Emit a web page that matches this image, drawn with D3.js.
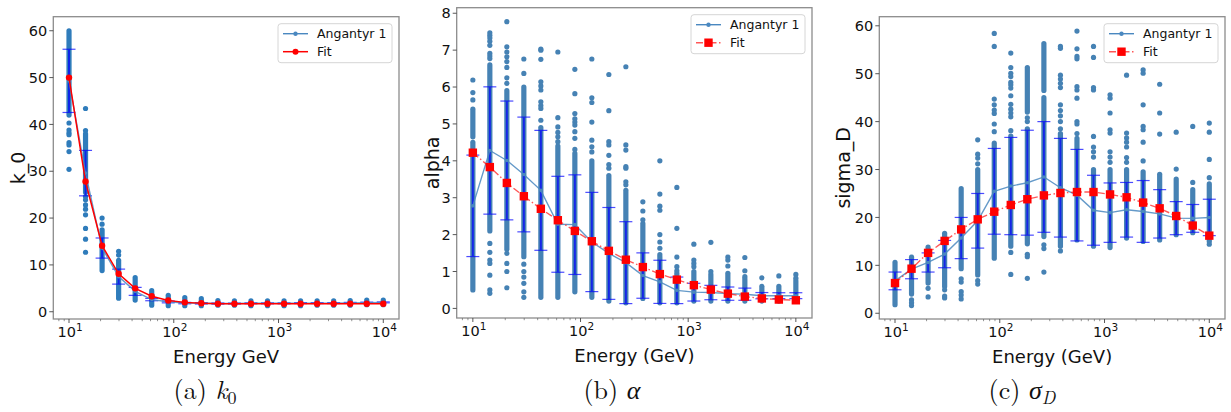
<!DOCTYPE html>
<html>
<head>
<meta charset="utf-8">
<script src="https://cdn.jsdelivr.net/npm/d3@7"></script>
<style>
  body { margin: 0; background: #fff; }
  text { font-family: "DejaVu Sans", sans-serif; fill: #111; }
  .cap { font-family: "Latin Modern Roman", "Liberation Serif", serif; }
</style>
</head>
<body>
<svg width="1231" height="412"></svg>
<script>
// energies: 20 log-spaced points from 10 to 10^4 GeV
var energies = [10, 14.38, 20.69, 29.76, 42.81, 61.58, 88.59, 127.4, 183.3, 263.7,
  379.3, 545.6, 784.8, 1129, 1624, 2336, 3360, 4833, 6952, 10000];

var xTicks = [10, 100, 1000, 10000];
var xTickExp = ['1', '2', '3', '4'];

// ---- (a) k_0 ----
var k0Mean = [49.3, 29.6, 13.6, 7.5, 4.35, 2.6, 2.1, 1.85, 1.8, 1.75, 1.75, 1.8, 1.8, 1.8, 1.85, 1.85, 1.85, 1.9, 1.95, 2.0];
var k0Std = [6.75, 4.85, 2.15, 1.6, 0.85, 0.25, 0.2, 0.15, 0.15, 0.12, 0.1, 0.1, 0.1, 0.1, 0.1, 0.1, 0.1, 0.1, 0.1, 0.1];
var k0Fit = [50.0, 27.8, 14.1, 8.1, 5.0, 3.3, 2.4, 2.0, 1.8, 1.7, 1.7, 1.7, 1.7, 1.7, 1.7, 1.7, 1.7, 1.7, 1.7, 1.7];
// dense stretches of overlapping points [low, high]
var k0Runs = [[[42, 60]], [[25.5, 38]], [[8.8, 17.5]], [[2.9, 11.0]], [[2.5, 7.3]], [[1.4, 4.5]],
  [[1.3, 3.5]], [[1.3, 3.0]], [[1.3, 2.8]], [[1.4, 2.4]], [[1.4, 2.3]], [[1.3, 2.3]], [[1.3, 2.3]],
  [[1.3, 2.3]], [[1.3, 2.3]], [[1.4, 2.3]], [[1.4, 2.3]], [[1.4, 2.4]], [[1.5, 2.5]], [[1.5, 2.5]]];
// isolated points
var k0Dots = [[40.3, 38.8, 38.2, 37.8, 36.1, 35.6, 34.2, 30.4],
  [43.4, 38.7, 24.6, 23.9, 22.8, 21.9, 20.7, 17.8, 15.5, 12.7],
  [20.0, 18.7], [12.9, 12.1], [], [], [], [], [], [], [], [], [], [], [], [], [], [], [], []];
var k0Ticks = [0, 10, 20, 30, 40, 50, 60];

// ---- (b) alpha ----
var alphaMean = [2.78, 4.28, 4.01, 3.63, 3.2, 2.28, 2.27, 1.8, 1.49, 1.24, 0.89, 0.72, 0.49, 0.44, 0.43, 0.40, 0.385, 0.345, 0.345, 0.345];
var alphaStd = [1.375, 1.725, 1.61, 1.555, 1.625, 1.3, 1.35, 1.345, 1.245, 1.11, 0.615, 0.585, 0.36, 0.24, 0.195, 0.18, 0.165, 0.085, 0.08, 0.08];
var alphaFit = [4.22, 3.83, 3.4, 3.04, 2.7, 2.39, 2.1, 1.82, 1.56, 1.32, 1.12, 0.93, 0.78, 0.63, 0.51, 0.40, 0.32, 0.27, 0.24, 0.22];
var alphaRuns = [[[0.5, 4.5], [4.65, 5.4]], [[2.1, 6.6]], [[1.6, 5.9]], [[1.4, 6.0]], [[0.3, 4.9]], [[0.3, 4.4]],
  [[0.45, 4.2]], [[0.3, 4.0]], [[0.2, 3.6]], [[0.15, 3.2]], [[0.27, 2.3]], [[0.15, 1.4]], [[0.15, 0.95]],
  [[0.2, 1.0]], [[0.2, 0.92]], [[0.2, 0.95]], [[0.2, 0.8]], [[0.2, 0.6]], [[0.2, 0.6]], [[0.2, 0.75]]];
var alphaDots = [[6.19, 5.85, 5.65],
  [7.47, 7.4, 7.33, 7.24, 7.13, 6.91, 6.84, 6.77, 1.76, 1.52, 1.31, 1.22, 0.9, 0.5, 0.41],
  [7.77, 7.09, 6.95, 6.82, 6.69, 6.53, 6.25, 6.1, 1.49, 1.22, 1.0, 0.56],
  [6.76, 6.37, 1.2, 1.0, 0.85, 0.68, 0.45, 0.3],
  [7.03, 7.0, 6.75, 6.14, 6.03, 5.92, 5.6, 5.5, 5.42, 5.1],
  [6.95, 5.17, 4.92, 4.77, 4.65, 4.52],
  [6.48, 5.82, 5.28, 5.14, 5.05, 4.97, 4.79, 4.61, 4.31],
  [6.76, 5.71, 5.58, 5.05, 4.56, 4.38, 4.24],
  [6.34, 5.36, 4.52, 4.43, 4.15, 3.9, 3.8],
  [6.55, 4.43, 4.29, 3.84, 3.8, 3.43, 3.35],
  [2.89, 2.64, 2.4],
  [4.0, 3.1, 2.77, 2.66, 2.0, 1.8, 1.63, 1.46],
  [3.28, 2.17, 1.39, 1.13, 1.02],
  [1.74, 1.31, 1.22, 1.13],
  [1.79, 1.0],
  [1.39, 1.31, 1.15],
  [1.38, 1.02, 0.86],
  [0.83], [0.88], [0.92, 0.82]];
var alphaTicks = [0, 1, 2, 3, 4, 5, 6, 7, 8];

// ---- (c) sigma_D ----
var sigmaMean = [6.75, 9.2, 10.6, 12.35, 15.7, 19.3, 25.45, 26.55, 27.25, 28.45, 26.2, 24.65, 21.5, 21.0, 21.6, 21.25, 20.75, 19.85, 19.8, 20.0];
var sigmaStd = [1.85, 2.0, 2.0, 2.85, 4.3, 5.7, 8.95, 10.15, 10.95, 11.55, 10.3, 9.55, 7.3, 6.2, 5.7, 6.45, 5.05, 3.45, 2.9, 3.8];
var sigmaFit = [6.3, 9.3, 12.6, 15.1, 17.5, 19.6, 21.2, 22.6, 23.8, 24.6, 25.1, 25.3, 25.3, 24.8, 24.2, 23.1, 21.9, 20.3, 18.3, 16.2];
var sigmaRuns = [[[1.8, 10.6]], [[4.0, 11.7]], [[6.3, 13.8]], [[5.6, 16.7]], [[9.3, 26.0]], [[8.0, 30.0]],
  [[11.5, 35.5]], [[14.0, 37.0]], [[14.5, 38.5], [42, 51.3]], [[16, 45], [46.5, 56.3]], [[14, 37.5]],
  [[15.3, 36.5]], [[14.0, 30.0]], [[13.7, 30.0]], [[15.7, 30.0]], [[15.0, 29.5]], [[15.3, 29.0]],
  [[16.4, 28.0]], [[16.8, 25.8]], [[15.0, 27.0]]];
var sigmaDots = [[],
  [2.8, 2.2, 1.6],
  [5.2, 3.4],
  [4.9, 3.6, 3.2],
  [7.2, 6.5, 4.5, 3.8, 3.0],
  [36.2, 33.2, 32.4, 31.2, 6.8, 6.1],
  [58.4, 55.7, 44.7, 43.5, 42.4, 41.7, 39.5, 37.9],
  [54.3, 51.3, 50.1, 49.4, 48.2, 47.7, 47.0, 45.4, 43.6, 42.6, 41.8, 41.0, 38.1, 12.7, 8.1],
  [40.8, 40.0, 12.3, 11.8, 7.3],
  [14.3, 13.5, 8.6],
  [55.7, 55.3, 49.7, 48.9, 48.0, 47.1, 43.5, 42.3, 41.2, 40.0, 38.5, 13.0],
  [58.9, 55.2, 53.6, 53.1, 47.3, 46.6, 44.9, 40.0, 39.5, 37.5],
  [55.7, 53.4, 47.1, 46.6, 36.9, 34.7, 33.7, 32.6],
  [45.6, 44.9, 41.8, 38.3, 37.6, 33.7, 32.6, 31.5],
  [49.7, 37.6, 36.6, 35.7, 34.7, 32.5, 31.5],
  [50.8, 50.1, 43.5, 39.0, 38.3, 35.7, 31.8],
  [47.8, 41.8, 37.4],
  [37.8, 30.1],
  [39.0, 27.3],
  [39.7, 37.8, 32.1, 28.3, 14.4]];
var sigmaTicks = [0, 10, 20, 30, 40, 50, 60];

var svg = d3.select('svg');

var panels = [
  { left: 53.3, right: 399, top: 16.7, bottom: 319, yDomain: [-1.55, 63.0],
    mean: k0Mean, std: k0Std, fit: k0Fit, runs: k0Runs, dots: k0Dots, yTicks: k0Ticks,
    ylabel: 'k_0', ylabelX: 18, xlabel: 'Energy GeV', dotColor: '#2f7cbb', fitStyle: 'solid',
    capX: 205, capLetter: '(a) ', capSym: 'k', capSub: '0' },
  { left: 456.7, right: 812, top: 7.7, bottom: 318, yDomain: [-0.26, 8.15],
    mean: alphaMean, std: alphaStd, fit: alphaFit, runs: alphaRuns, dots: alphaDots, yTicks: alphaTicks,
    ylabel: 'alpha', ylabelX: 432, xlabel: 'Energy (GeV)', dotColor: '#4682b4', fitStyle: 'dashdot',
    capX: 612, capLetter: '(b) ', capSym: 'α', capSub: '' },
  { left: 879.3, right: 1225, top: 16.7, bottom: 319, yDomain: [-1.2, 61.9],
    mean: sigmaMean, std: sigmaStd, fit: sigmaFit, runs: sigmaRuns, dots: sigmaDots, yTicks: sigmaTicks,
    ylabel: 'sigma_D', ylabelX: 843, xlabel: 'Energy (GeV)', dotColor: '#4682b4', fitStyle: 'dashdot',
    capX: 1022, capLetter: '(c) ', capSym: 'σ', capSub: 'D' }
];

var dotR = 2.6;

panels.forEach(function(p) {
  var x = d3.scaleLog().domain([Math.pow(10, 0.85), Math.pow(10, 4.15)]).range([p.left, p.right]);
  var y = d3.scaleLinear().domain(p.yDomain).range([p.bottom, p.top]);
  var g = svg.append('g');

  var clipId = 'clip' + Math.round(p.left);
  g.append('clipPath').attr('id', clipId).append('rect')
    .attr('x', p.left).attr('y', p.top).attr('width', p.right - p.left).attr('height', p.bottom - p.top);
  var plot = g.append('g').attr('clip-path', 'url(#' + clipId + ')');

  // dense runs of points
  energies.forEach(function(e, i) {
    plot.selectAll(null).data(p.runs[i]).enter().append('line')
      .attr('x1', x(e)).attr('x2', x(e))
      .attr('y1', function(d) { return y(d[0]); })
      .attr('y2', function(d) { return y(d[1]); })
      .attr('stroke', p.dotColor).attr('stroke-width', dotR * 2).attr('stroke-linecap', 'round');
    plot.selectAll(null).data(p.dots[i]).enter().append('circle')
      .attr('cx', x(e)).attr('cy', function(d) { return y(d); })
      .attr('r', dotR).attr('fill', p.dotColor);
  });

  // error bars
  var eb = plot.selectAll('.eb').data(energies).enter().append('g')
    .attr('stroke', '#0000ff').attr('opacity', 0.7);
  eb.append('line')
    .attr('x1', function(d) { return x(d); }).attr('x2', function(d) { return x(d); })
    .attr('y1', function(d, i) { return y(p.mean[i] - p.std[i]); })
    .attr('y2', function(d, i) { return y(p.mean[i] + p.std[i]); })
    .attr('stroke-width', 2);
  [-1, 1].forEach(function(s) {
    eb.append('line')
      .attr('x1', function(d) { return x(d) - 6.5; }).attr('x2', function(d) { return x(d) + 6.5; })
      .attr('y1', function(d, i) { return y(p.mean[i] + s * p.std[i]); })
      .attr('y2', function(d, i) { return y(p.mean[i] + s * p.std[i]); })
      .attr('stroke-width', 1.2);
  });

  // mean line
  var line = d3.line().x(function(d) { return x(d[0]); }).y(function(d) { return y(d[1]); });
  var meanPts = energies.map(function(e, i) { return [e, p.mean[i]]; });
  plot.append('path').datum(meanPts).attr('d', line)
    .attr('fill', 'none').attr('stroke', '#4a88c0').attr('stroke-width', 1.4).attr('opacity', 0.85);
  plot.selectAll(null).data(meanPts).enter().append('circle')
    .attr('cx', function(d) { return x(d[0]); }).attr('cy', function(d) { return y(d[1]); })
    .attr('r', 1.8).attr('fill', '#4a88c0');

  // fit
  var fitPts = energies.map(function(e, i) { return [e, p.fit[i]]; });
  if (p.fitStyle === 'solid') {
    plot.append('path').datum(fitPts).attr('d', line)
      .attr('fill', 'none').attr('stroke', '#ff0000').attr('stroke-width', 1.5);
    plot.selectAll(null).data(fitPts).enter().append('circle')
      .attr('cx', function(d) { return x(d[0]); }).attr('cy', function(d) { return y(d[1]); })
      .attr('r', 3.2).attr('fill', '#ff0000');
  } else {
    plot.append('path').datum(fitPts).attr('d', line)
      .attr('fill', 'none').attr('stroke', '#ff2020').attr('stroke-width', 1.4)
      .attr('stroke-dasharray', '7,2.5,1.5,2.5').attr('opacity', 0.75);
    plot.selectAll(null).data(fitPts).enter().append('rect')
      .attr('x', function(d) { return x(d[0]) - 4.2; }).attr('y', function(d) { return y(d[1]) - 4.2; })
      .attr('width', 8.4).attr('height', 8.4).attr('fill', '#ff0000');
  }

  // frame
  g.append('rect').attr('x', p.left).attr('y', p.top)
    .attr('width', p.right - p.left).attr('height', p.bottom - p.top)
    .attr('fill', 'none').attr('stroke', '#8c8c8c').attr('stroke-width', 1.3);

  // y ticks
  p.yTicks.forEach(function(t) {
    g.append('line').attr('x1', p.left - 4).attr('x2', p.left).attr('y1', y(t)).attr('y2', y(t))
      .attr('stroke', '#444').attr('stroke-width', 0.9);
    g.append('text').attr('x', p.left - 6).attr('y', y(t)).attr('dy', '0.36em')
      .attr('text-anchor', 'end').attr('font-size', 14.5).text(t);
  });

  // x ticks, major and minor
  var minor = [];
  [1, 10, 100, 1000].forEach(function(dec) {
    for (var k = 2; k <= 9; k++) minor.push(k * dec);
  });
  minor.forEach(function(t) {
    if (t < x.domain()[0] || t > x.domain()[1]) return;
    g.append('line').attr('x1', x(t)).attr('x2', x(t)).attr('y1', p.bottom).attr('y2', p.bottom + 2.2)
      .attr('stroke', '#666').attr('stroke-width', 0.7);
  });
  xTicks.forEach(function(t, i) {
    g.append('line').attr('x1', x(t)).attr('x2', x(t)).attr('y1', p.bottom).attr('y2', p.bottom + 4)
      .attr('stroke', '#444').attr('stroke-width', 0.9);
    var tx = g.append('text').attr('x', x(t) + 1).attr('y', p.bottom + 18)
      .attr('text-anchor', 'middle').attr('font-size', 14.5);
    tx.append('tspan').text('10');
    tx.append('tspan').attr('dy', -6).attr('font-size', 10.5).text(xTickExp[i]);
  });

  // axis labels
  var cx = (p.left + p.right) / 2;
  g.append('text').attr('x', cx).attr('y', p.bottom + 44).attr('text-anchor', 'middle')
    .attr('font-size', 18).text(p.xlabel);
  g.append('text')
    .attr('transform', 'translate(' + p.ylabelX + ',' + ((p.top + p.bottom) / 2) + ') rotate(-90)')
    .attr('text-anchor', 'middle').attr('dy', '0.35em').attr('font-size', 19).text(p.ylabel);

  // legend
  var lw = 114, lh = 39;
  var lx = p.right - 7 - lw, ly = p.top + 7;
  var lg = g.append('g');
  lg.append('rect').attr('x', lx).attr('y', ly).attr('width', lw).attr('height', lh)
    .attr('rx', 3).attr('fill', '#fff').attr('fill-opacity', 0.85)
    .attr('stroke', '#d6d6d6').attr('stroke-width', 1);
  var r1 = ly + 10, r2 = ly + 28;
  lg.append('line').attr('x1', lx + 5).attr('x2', lx + 30).attr('y1', r1).attr('y2', r1)
    .attr('stroke', '#4a88c0').attr('stroke-width', 1.4);
  lg.append('circle').attr('cx', lx + 17.5).attr('cy', r1).attr('r', 2.2).attr('fill', '#4a88c0');
  lg.append('text').attr('x', lx + 39).attr('y', r1).attr('dy', '0.36em').attr('font-size', 12.5).text('Angantyr 1');
  if (p.fitStyle === 'solid') {
    lg.append('line').attr('x1', lx + 5).attr('x2', lx + 30).attr('y1', r2).attr('y2', r2)
      .attr('stroke', '#ff0000').attr('stroke-width', 1.5);
    lg.append('circle').attr('cx', lx + 17.5).attr('cy', r2).attr('r', 3).attr('fill', '#ff0000');
  } else {
    lg.append('line').attr('x1', lx + 5).attr('x2', lx + 30).attr('y1', r2).attr('y2', r2)
      .attr('stroke', '#ff2020').attr('stroke-width', 1.4).attr('stroke-dasharray', '7,2.5,1.5,2.5').attr('opacity', 0.75);
    lg.append('rect').attr('x', lx + 13.3).attr('y', r2 - 4.2).attr('width', 8.4).attr('height', 8.4).attr('fill', '#ff0000');
  }
  lg.append('text').attr('x', lx + 39).attr('y', r2).attr('dy', '0.36em').attr('font-size', 12.5).text('Fit');

  // caption
  var cap = g.append('text').attr('class', 'cap').attr('x', p.capX).attr('y', 399)
    .attr('text-anchor', 'middle').attr('font-size', 26);
  cap.append('tspan').text(p.capLetter);
  cap.append('tspan').attr('font-style', 'italic').text(p.capSym);
  if (p.capSub) {
    cap.append('tspan').attr('font-style', p.capSub === 'D' ? 'italic' : 'normal')
      .attr('font-size', 18).attr('dy', 5).text(p.capSub);
  }
});
</script>
</body>
</html>
